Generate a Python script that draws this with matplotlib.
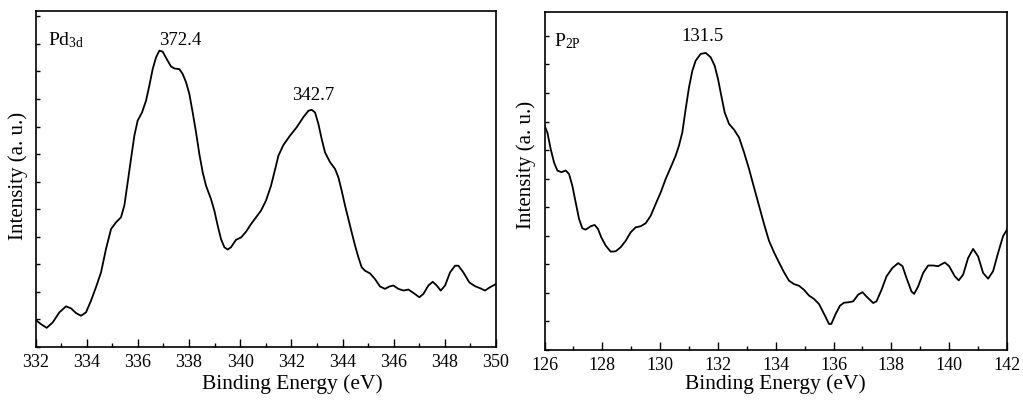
import numpy as np
import matplotlib
matplotlib.use("Agg")
import matplotlib.pyplot as plt
from matplotlib.ticker import MultipleLocator

# Pd 3d spectrum (arbitrary units)
pd_energy = [332.0, 332.215, 332.437, 332.671, 332.932, 333.192, 333.388, 333.583, 333.779, 333.974,
             334.17, 334.365, 334.561, 334.756, 334.952, 335.147, 335.342, 335.473, 335.603, 335.733,
             335.864, 335.994, 336.163, 336.32, 336.45, 336.58, 336.711, 336.841, 336.972, 337.128,
             337.297, 337.427, 337.623, 337.753, 337.884, 338.014, 338.144, 338.275, 338.405, 338.535,
             338.665, 338.861, 338.991, 339.122, 339.252, 339.382, 339.512, 339.643, 339.838, 340.034,
             340.229, 340.425, 340.62, 340.815, 341.011, 341.206, 341.402, 341.493, 341.688, 341.949,
             342.21, 342.47, 342.666, 342.796, 342.927, 343.057, 343.187, 343.317, 343.513, 343.708,
             343.839, 343.969, 344.099, 344.23, 344.36, 344.49, 344.621, 344.751, 344.881, 345.077,
             345.272, 345.468, 345.663, 345.832, 345.989, 346.184, 346.38, 346.575, 346.771, 347.005,
             347.162, 347.357, 347.527, 347.683, 347.84, 348.009, 348.204, 348.4, 348.53, 348.725,
             348.96, 349.181, 349.377, 349.572, 349.768, 350.0]
pd_intensity = [0.081, 0.068, 0.057, 0.073, 0.103, 0.121, 0.115, 0.101, 0.093, 0.103,
                0.138, 0.178, 0.222, 0.292, 0.351, 0.371, 0.386, 0.421, 0.490, 0.560,
                0.629, 0.674, 0.698, 0.733, 0.778, 0.827, 0.862, 0.882, 0.879, 0.857,
                0.835, 0.829, 0.827, 0.8125, 0.788, 0.753, 0.698, 0.639, 0.574, 0.520,
                0.480, 0.440, 0.406, 0.361, 0.321, 0.297, 0.290, 0.297, 0.319, 0.326,
                0.343, 0.366, 0.386, 0.406, 0.436, 0.480, 0.540, 0.569, 0.601, 0.629,
                0.654, 0.684, 0.703, 0.706, 0.698, 0.664, 0.619, 0.579, 0.550, 0.530,
                0.505, 0.465, 0.421, 0.381, 0.341, 0.302, 0.267, 0.237, 0.227, 0.219,
                0.202, 0.180, 0.173, 0.180, 0.183, 0.173, 0.168, 0.171, 0.161, 0.148,
                0.158, 0.183, 0.194, 0.183, 0.168, 0.183, 0.222, 0.242, 0.242, 0.222,
                0.192, 0.181, 0.175, 0.168, 0.178, 0.1875]

# P 2p spectrum
p_energy = [126.0, 126.098, 126.213, 126.329, 126.444, 126.582, 126.732, 126.848, 126.963, 127.078,
            127.194, 127.309, 127.424, 127.597, 127.736, 127.851, 127.966, 128.116, 128.289, 128.462,
            128.635, 128.808, 128.981, 129.154, 129.327, 129.5, 129.673, 129.846, 130.019, 130.192,
            130.365, 130.538, 130.653, 130.768, 130.884, 130.999, 131.114, 131.23, 131.403, 131.576,
            131.749, 131.887, 132.002, 132.117, 132.233, 132.383, 132.556, 132.729, 132.902, 133.075,
            133.248, 133.421, 133.594, 133.767, 133.94, 134.113, 134.286, 134.459, 134.632, 134.805,
            134.978, 135.151, 135.324, 135.497, 135.67, 135.843, 135.923, 136.073, 136.223, 136.361,
            136.507, 136.68, 136.853, 137.002, 137.141, 137.371, 137.486, 137.659, 137.832, 138.039,
            138.235, 138.385, 138.523, 138.696, 138.788, 138.926, 139.099, 139.272, 139.445, 139.618,
            139.848, 139.998, 140.194, 140.332, 140.482, 140.654, 140.827, 141.0, 141.173, 141.346,
            141.518, 141.691, 141.865, 142.0]
p_intensity = [0.664, 0.644, 0.595, 0.555, 0.531, 0.526, 0.531, 0.521, 0.486, 0.437,
               0.388, 0.360, 0.356, 0.366, 0.370, 0.358, 0.333, 0.309, 0.291, 0.292,
               0.304, 0.323, 0.348, 0.363, 0.366, 0.375, 0.397, 0.432, 0.466, 0.506,
               0.540, 0.575, 0.605, 0.644, 0.713, 0.777, 0.826, 0.856, 0.876, 0.879,
               0.866, 0.841, 0.802, 0.752, 0.703, 0.669, 0.652, 0.629, 0.585, 0.536,
               0.481, 0.427, 0.373, 0.323, 0.289, 0.259, 0.230, 0.205, 0.195, 0.190,
               0.178, 0.161, 0.151, 0.136, 0.107, 0.077, 0.077, 0.107, 0.131, 0.140,
               0.141, 0.144, 0.164, 0.171, 0.158, 0.139, 0.144, 0.178, 0.218, 0.243,
               0.257, 0.248, 0.213, 0.173, 0.166, 0.188, 0.228, 0.250, 0.250, 0.248,
               0.259, 0.248, 0.218, 0.206, 0.223, 0.272, 0.299, 0.277, 0.228, 0.211,
               0.233, 0.287, 0.337, 0.356]

plt.rcParams['font.family'] = ['Liberation Serif', 'DejaVu Serif']
plt.rcParams['mathtext.fontset'] = 'stix'

fig = plt.figure(figsize=(10.23, 4.10), dpi=100)
ax1 = fig.add_axes([35.5/1023, 1 - 348/410, 460.5/1023, 336/410])
ax2 = fig.add_axes([544.5/1023, 1 - 351/410, 462.5/1023, 338/410])


def style(ax, xlim, major_y):
	ax.set_xlim(*xlim)
	ax.set_ylim(0, 1)
	ax.xaxis.set_major_locator(MultipleLocator(2))
	ax.xaxis.set_minor_locator(MultipleLocator(1))
	ax.yaxis.set_major_locator(MultipleLocator(major_y))
	ax.set_yticklabels([])
	ax.tick_params(which='both', direction='in', top=False, right=False, width=1.0)
	ax.tick_params(which='major', length=6, labelsize=13, pad=4)
	ax.tick_params(which='minor', length=3)
	ax.yaxis.set_tick_params(which='major', length=3)
	for s in ax.spines.values():
		s.set_linewidth(1.2)
	ax.set_xlabel("Binding Energy (eV)", fontsize=15.5)
	ax.set_ylabel("Intensity (a. u.)", fontsize=15)


# Left: Pd 3d
ax1.plot(pd_energy, pd_intensity, color='black', lw=1.3, solid_joinstyle='round')
style(ax1, (332, 350), 0.082)
ax1.xaxis.set_label_coords(0.557, -0.078)
ax1.yaxis.set_label_coords(-0.017, 0.512)
ax1.text(337.67, 0.89, "372.4", fontsize=13.5, ha='center', va='bottom')
ax1.text(342.84, 0.725, "342.7", fontsize=13.5, ha='center', va='bottom')
ax1.text(0.028, 0.945, r"Pd$_{\mathregular{3d}}$", fontsize=14, transform=ax1.transAxes, va='top')

# Right: P 2p
ax2.plot(p_energy, p_intensity, color='black', lw=1.3, solid_joinstyle='round')
style(ax2, (126, 142), 0.0845)
ax2.xaxis.set_label_coords(0.5, -0.069)
ax2.yaxis.set_label_coords(-0.018, 0.55)
ax2.text(131.45, 0.905, "131.5", fontsize=13.5, ha='center', va='bottom')
ax2.text(0.02, 0.945, r"P$_{\mathregular{2P}}$", fontsize=14, transform=ax2.transAxes, va='top')

fig.savefig("out.png", dpi=100)
